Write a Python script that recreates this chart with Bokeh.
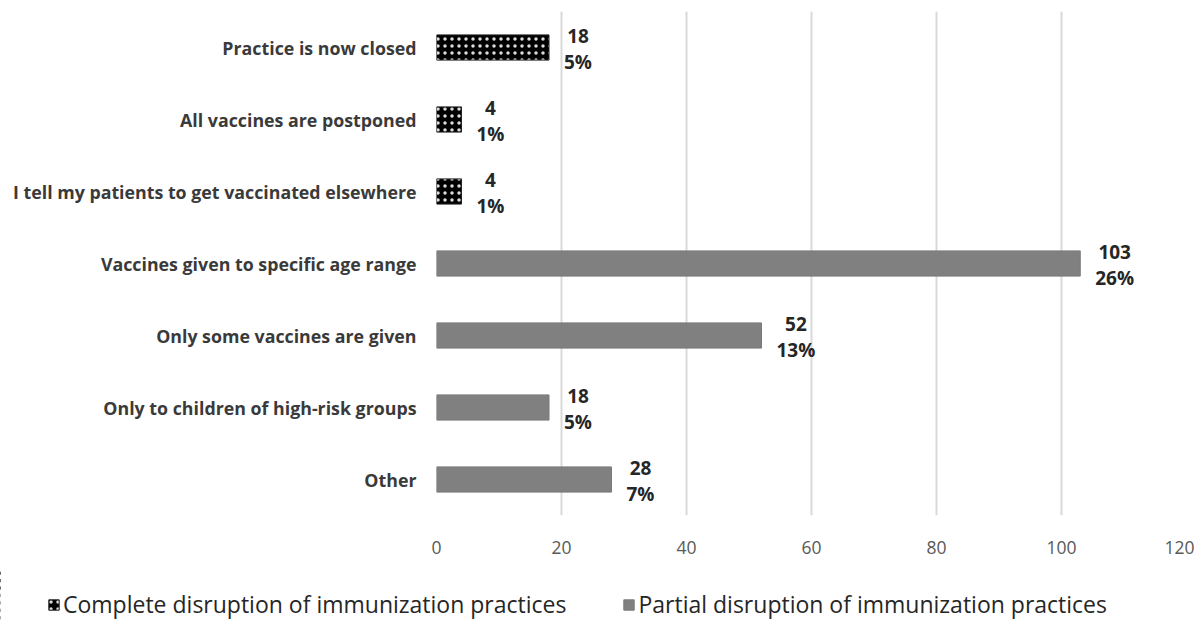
from bokeh.plotting import figure
from bokeh.models import ColumnDataSource, Range1d, FactorRange, Legend, LegendItem
from bokeh.embed import file_html
from bokeh.resources import INLINE
from bokeh.core.properties import value

categories = ["Practice is now closed", "All vaccines are postponed",
              "I tell my patients to get vaccinated elsewhere",
              "Vaccines given to specific age range", "Only some vaccines are given",
              "Only to children of high-risk groups", "Other"]
counts = [18, 4, 4, 103, 52, 18, 28]
percents = ["5%", "1%", "1%", "26%", "13%", "5%", "7%"]
groups = ["complete", "complete", "complete", "partial", "partial", "partial", "partial"]
series_names = ["Complete disruption of immunization practices",
                "Partial disruption of immunization practices"]
x_ticks = [0, 20, 40, 60, 80, 100, 120]

FONT = "Open Sans"
COMPLETE_STYLE = dict(fill_color="black", line_color="#222222", line_width=1,
                      hatch_pattern="dot", hatch_color="#dddddd", hatch_scale=7, hatch_weight=1.0)
PARTIAL_STYLE = dict(fill_color="#808080", line_color="#7a7a7a", line_width=1)

p = figure(width=1194, height=569, output_backend="svg", toolbar_location=None,
           y_range=FactorRange(factors=list(reversed(categories)), range_padding=0),
           x_range=Range1d(0, 120),
           min_border_left=436, min_border_right=8, min_border_top=11, min_border_bottom=54)
p.outline_line_color = None
p.background_fill_color = "white"
p.border_fill_color = "white"

comp = [i for i, g in enumerate(groups) if g == "complete"]
part = [i for i, g in enumerate(groups) if g == "partial"]

def make_src(idx):
    return ColumnDataSource(dict(y=[categories[i] for i in idx], x=[counts[i] for i in idx],
                                 lab=[f"{counts[i]}\n{percents[i]}" for i in idx]))

src_c = make_src(comp)
src_p = make_src(part)

p.hbar(y="y", right="x", left=0, height=0.35, source=src_c, **COMPLETE_STYLE)
p.hbar(y="y", right="x", left=0, height=0.35, source=src_p, **PARTIAL_STYLE)

for src in (src_c, src_p):
    p.text(x="x", y="y", text="lab", source=src, x_offset=15, y_offset=1,
           anchor="center_left", text_align="center", text_baseline="middle",
           text_line_height=1.0, text_font=value(FONT),
           text_font_size="19px", text_font_style="bold", text_color="#262626")

p.ygrid.grid_line_color = None
p.xgrid.grid_line_color = "#d9d9d9"
p.xgrid.grid_line_width = 2
p.xaxis.ticker = x_ticks
p.xaxis.axis_line_color = None
p.xaxis.major_tick_line_color = None
p.xaxis.minor_tick_line_color = None
p.xaxis.major_label_standoff = 19
p.xaxis.major_label_text_font = FONT
p.xaxis.major_label_text_font_size = "17.5px"
p.xaxis.major_label_text_color = "#595959"

p.yaxis.axis_line_color = None
p.yaxis.major_tick_line_color = None
p.yaxis.major_tick_out = 0
p.yaxis.major_label_standoff = 20
p.yaxis.major_label_text_font = FONT
p.yaxis.major_label_text_font_size = "17.8px"
p.yaxis.major_label_text_font_style = "bold"
p.yaxis.major_label_text_color = "#3a3a3a"

# legend strip (separate root): same series, zero-width and outside the strip's visible range
lg = figure(width=1194, height=52, output_backend="svg", toolbar_location=None,
            x_range=Range1d(1000, 1001), y_range=FactorRange(factors=list(reversed(categories))),
            min_border_left=0, min_border_right=0, min_border_top=0, min_border_bottom=0)
lg.axis.visible = False
lg.grid.visible = False
lg.outline_line_color = None
g1 = lg.hbar(y="y", right="x", left="x", height=0.35, source=src_c, **COMPLETE_STYLE)
g2 = lg.hbar(y="y", right="x", left="x", height=0.35, source=src_p, **PARTIAL_STYLE)
legend = Legend(items=[LegendItem(label=series_names[0], renderers=[g1]),
                       LegendItem(label=series_names[1], renderers=[g2])],
                orientation="horizontal", location=(47, 1),
                glyph_width=13, glyph_height=13, label_standoff=3, spacing=56,
                label_text_font=FONT, label_text_font_size="23px", label_text_color="#262626",
                border_line_color=None, background_fill_alpha=0, margin=0, padding=0)
lg.add_layout(legend, "center")

open("out.html", "w").write(file_html([p, lg], INLINE))
